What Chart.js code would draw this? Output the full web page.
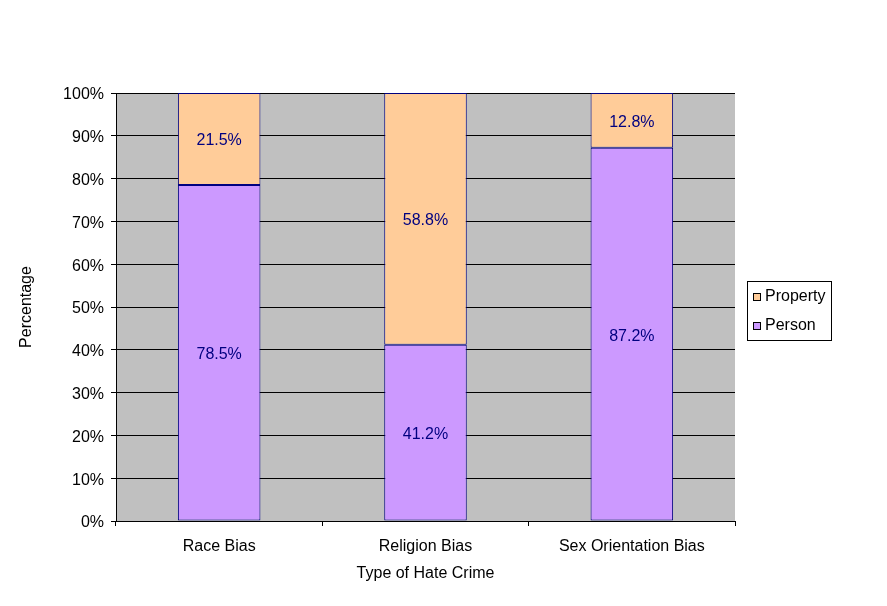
<!DOCTYPE html>
<html>
<head>
<meta charset="utf-8">
<title>Type of Hate Crime</title>
<script src="https://cdn.jsdelivr.net/npm/chart.js@4.4.1/dist/chart.umd.min.js"></script>
<style>
  body { margin: 0; background: #fff; }
  #chart { display: block; }
</style>
</head>
<body>
<canvas id="chart" width="887" height="606"></canvas>
<script>
// data
const categories = ['Race Bias', 'Religion Bias', 'Sex Orientation Bias'];
const personValues = [78.5, 41.2, 87.2];
const propertyValues = [21.5, 58.8, 12.8];
const seriesNames = ['Person', 'Property'];
const yTickStep = 10;

const FONT = "'Liberation Sans', Arial, sans-serif";
const NAVY = '#000080';

// grey plot area like the old Excel charts
const plotBackground = {
  id: 'plotBackground',
  beforeDraw(chart) {
    const { ctx, chartArea: a } = chart;
    ctx.save();
    ctx.fillStyle = '#c0c0c0';
    ctx.fillRect(a.left, a.top, a.right - a.left, a.bottom - a.top);
    ctx.restore();
  }
};

// percentage written in the middle of each segment
const segmentLabels = {
  id: 'segmentLabels',
  afterDatasetsDraw(chart) {
    const ctx = chart.ctx;
    ctx.save();
    ctx.font = '16px ' + FONT;
    ctx.fillStyle = NAVY;
    ctx.textAlign = 'center';
    ctx.textBaseline = 'middle';
    chart.data.datasets.forEach((ds, i) => {
      chart.getDatasetMeta(i).data.forEach((bar, j) => {
        ctx.fillText(ds.data[j].toFixed(1) + '%', bar.x, (bar.y + bar.base) / 2 + 2);
      });
    });
    ctx.restore();
  }
};

// boxed legend on the right, top series first
const boxLegend = {
  id: 'boxLegend',
  afterDraw(chart) {
    const ctx = chart.ctx;
    const x = 747, y = 281, w = 84, h = 59;
    ctx.save();
    ctx.fillStyle = '#fff';
    ctx.fillRect(x, y, w, h);
    ctx.strokeStyle = '#000';
    ctx.lineWidth = 1;
    ctx.strokeRect(x + 0.5, y + 0.5, w, h);
    ctx.font = '16px ' + FONT;
    ctx.textBaseline = 'middle';
    const items = chart.data.datasets.slice().reverse();
    items.forEach((ds, k) => {
      const cy = y + 16 + k * 29;
      ctx.fillStyle = ds.backgroundColor;
      ctx.fillRect(x + 6, cy - 4, 8, 8);
      ctx.strokeStyle = '#000';
      ctx.strokeRect(x + 6.5, cy - 3.5, 7, 7);
      ctx.fillStyle = '#000';
      ctx.fillText(ds.label, x + 18, cy);
    });
    ctx.restore();
  }
};

new Chart(document.getElementById('chart'), {
  type: 'bar',
  data: {
    labels: categories,
    datasets: [
      {
        label: seriesNames[0],
        data: personValues,
        backgroundColor: '#cc99ff',
        borderColor: NAVY,
        borderWidth: 1,
        borderSkipped: false
      },
      {
        label: seriesNames[1],
        data: propertyValues,
        backgroundColor: '#ffcc99',
        borderColor: NAVY,
        borderWidth: 1,
        borderSkipped: false
      }
    ]
  },
  options: {
    responsive: false,
    animation: false,
    barPercentage: 0.4,
    categoryPercentage: 1.0,
    layout: { padding: { left: 0, right: 152, top: 93, bottom: 0 } },
    plugins: {
      legend: { display: false },
      tooltip: { enabled: false }
    },
    scales: {
      x: {
        stacked: true,
        afterFit(scale) { scale.height = 85; },
        grid: { display: true, drawOnChartArea: false, offset: true, tickLength: 5, color: '#000' },
        border: { color: '#000' },
        ticks: { color: '#000', font: { family: FONT, size: 16 }, padding: 11, maxRotation: 0 },
        title: { display: true, text: 'Type of Hate Crime', color: '#000', font: { family: FONT, size: 16 }, padding: { top: 0, bottom: 23 } }
      },
      y: {
        stacked: true,
        min: 0,
        max: 100,
        afterFit(scale) { scale.width = 116; },
        grid: { color: '#000', tickLength: 5 },
        border: { color: '#000' },
        ticks: {
          stepSize: yTickStep,
          color: '#000',
          font: { family: FONT, size: 16 },
          padding: 7,
          labelOffset: 2,
          callback: v => v + '%'
        },
        title: { display: true, text: 'Percentage', color: '#000', font: { family: FONT, size: 16 }, padding: { top: 17, bottom: 0 } }
      }
    }
  },
  plugins: [plotBackground, segmentLabels, boxLegend]
});
</script>
</body>
</html>
